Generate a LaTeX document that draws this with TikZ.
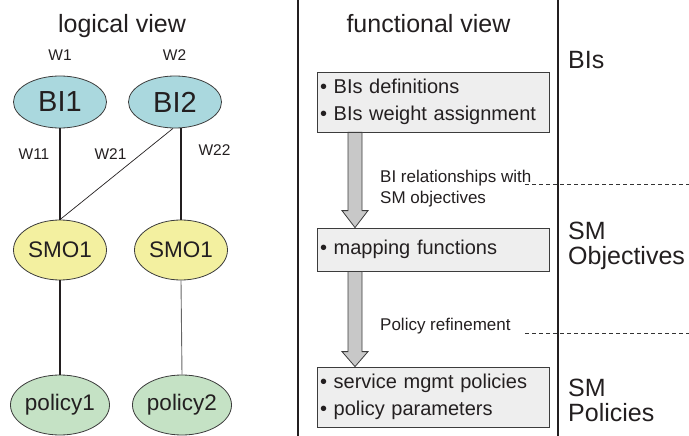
\documentclass[tikz,border=0pt]{standalone}
\usepackage{fontspec}
\setmainfont{Liberation Sans}
\usetikzlibrary{shapes.geometric,calc}
\definecolor{biblue}{RGB}{170,216,222}
\definecolor{smoyel}{RGB}{243,240,160}
\definecolor{polgrn}{RGB}{197,226,197}
\definecolor{boxgray}{RGB}{238,238,238}
\definecolor{arrgray}{RGB}{200,200,200}
\definecolor{edgegray}{RGB}{60,60,60}
\definecolor{ink}{RGB}{35,31,32}
\tikzset{
  ell/.style={ellipse, draw=edgegray, line width=0.8pt, inner sep=0pt, text=ink},
  bi/.style={ell, fill=biblue, minimum width=93pt, minimum height=52pt, font=\fontsize{29}{30}\selectfont},
  smo/.style={ell, fill=smoyel, minimum width=93pt, minimum height=60pt, font=\fontsize{22.5}{26}\selectfont},
  pol/.style={ell, fill=polgrn, minimum width=94pt, minimum height=60pt, font=\fontsize{22.5}{26}\selectfont},
  wlab/.style={font=\fontsize{15.5}{17}\selectfont, text=ink, inner sep=0pt, anchor=base},
  title/.style={font=\fontsize{25}{28}\selectfont, text=ink, inner sep=0pt, anchor=base},
  layer/.style={font=\fontsize{25}{25.5}\selectfont, align=left, inner sep=0pt, anchor=north west, text=ink},
  fbox/.style={draw=edgegray, line width=0.8pt, fill=boxgray, minimum width=232pt, text width=226pt, inner xsep=3pt, align=left, font=\fontsize{20}{26.7}\selectfont, text=ink},
  note/.style={font=\fontsize{17}{21.5}\selectfont, align=left, inner sep=0pt, text=ink},
  fat/.style={draw=edgegray, line width=0.8pt, fill=arrgray},
  sep/.style={line width=1.8pt, ink},
  dsh/.style={dash pattern=on 4pt off 3pt, line width=0.7pt, black!80},
  link/.style={line width=1.4pt, ink},
}
\begin{document}
\begin{tikzpicture}[x=1pt,y=-1pt]
\useasboundingbox (0,0) rectangle (689,436);
% titles
\node[title] (tl) at (122,33) {logical view};
\node[title] (tf) at (428.5,33) {functional view};
% separators
\coordinate (s1t) at (298,0); \coordinate (s1b) at (298,436);
\coordinate (s2t) at (558,0); \coordinate (s2b) at (558,436);
\draw[sep] (s1t) -- (s1b);
\draw[sep] (s2t) -- (s2b);
% logical view
\node[bi] (bi1) at (60,102) {BI1};
\node[bi] (bi2) at (175,102) {BI2};
\node[smo] (smoa) at (60,250) {SMO1};
\node[smo] (smob) at (181,250) {SMO1};
\node[pol] (pola) at (60,405) {policy1};
\node[pol] (polb) at (182,405) {policy2};
\node[wlab] (w1) at (60,60.5) {W1};
\node[wlab] (w2) at (174.5,60.5) {W2};
\node[wlab] (w11) at (34,160) {W11};
\node[wlab] (w21) at (110.5,160) {W21};
\node[wlab] (w22) at (214.5,155) {W22};
\draw[link] (bi1.south) -- (smoa.north);
\draw[link] (bi2.south -| smob.north) -- (smob.north);
\draw[line width=0.7pt, ink] (bi2.south) ++(-2,0) coordinate (d1) (d1) -- (smoa.north);
\draw[link] (smoa.south) -- (pola.north);
\draw[line width=0.9pt, black!60] (smob.south) -- (polb.north);
% functional view
\node[fbox, minimum height=60pt] (b1) at (433,102) {• BIs definitions\\• BIs weight assignment};
\node[fbox, minimum height=43pt] (b2) at (433,249.5) {• mapping functions};
\node[fbox, minimum height=60pt] (b3) at (433,397) {• service mgmt policies\\• policy parameters};
\coordinate (col) at (355,0);
\draw[fat] ($(b1.south -| col)+(-7,0)$) -- ($(b2.north -| col)+(-7,-17)$) -- ++(-6,0)
  -- (b2.north -| col) -- ($(b2.north -| col)+(13,-17)$) -- ++(-6,0)
  -- ($(b1.south -| col)+(7,0)$) -- cycle;
\draw[fat] ($(b2.south -| col)+(-7,0)$) -- ($(b3.north -| col)+(-7,-15)$) -- ++(-6,0)
  -- (b3.north -| col) -- ($(b3.north -| col)+(13,-15)$) -- ++(-6,0)
  -- ($(b2.south -| col)+(7,0)$) -- cycle;
\node[note, anchor=north west] (n1) at (380,169.5) {BI relationships with\\SM objectives};
\node[note, anchor=base west] (n2) at (380,330) {Policy refinement};
\coordinate (d1a) at (525,184); \coordinate (d1b) at (689,184);
\coordinate (d2a) at (525,333); \coordinate (d2b) at (689,333);
\draw[dsh] (d1a) -- (d1b);
\draw[dsh] (d2a) -- (d2b);
% layers
\node[layer, anchor=base west] (l1) at (568,69) {BIs};
\node[layer] (l2) at (568,221.5) {SM\\Objectives};
\node[layer] (l3) at (568,378.5) {SM\\Policies};
\end{tikzpicture}
\end{document}
